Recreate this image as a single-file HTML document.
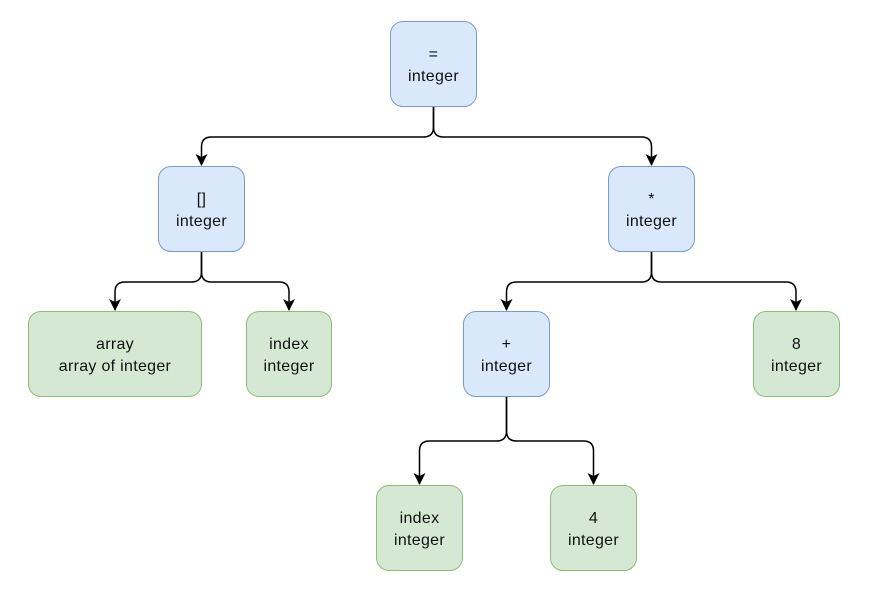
<!DOCTYPE html>
<html><head><style>
body{margin:0;width:895px;height:600px;background:#fff;overflow:hidden;position:relative;font-family:"Liberation Sans",Arial,sans-serif}
.n{position:absolute;box-sizing:border-box;border-radius:13px;display:flex;flex-direction:column;align-items:center;justify-content:center;font-size:16px;letter-spacing:0.3px;line-height:22px;color:#111;text-align:center;padding-top:4px}
.b{background:#dae8fc;border:1.5px solid #7a9acb}
.g{background:#d5e8d4;border:1.5px solid #8fbc75}
</style></head><body>
<svg width="895" height="600" style="position:absolute;left:0;top:0">
<defs><marker id="a" markerWidth="14" markerHeight="14" refX="11" refY="6" orient="auto" markerUnits="userSpaceOnUse"><path d="M0,0 L12,6 L0,12 L3,6 Z" fill="#000"/></marker></defs>
<g fill="none" stroke="#000" stroke-width="1.5">
<path d="M433.5,107 V127 Q433.5,137 423.5,137 H211.5 Q201.5,137 201.5,147 V165" marker-end="url(#a)"/>
<path d="M433.5,107 V127 Q433.5,137 443.5,137 H641.5 Q651.5,137 651.5,147 V165" marker-end="url(#a)"/>
<path d="M201.5,252 V272 Q201.5,282 191.5,282 H125 Q115,282 115,292 V310" marker-end="url(#a)"/>
<path d="M201.5,252 V272 Q201.5,282 211.5,282 H279 Q289,282 289,292 V310" marker-end="url(#a)"/>
<path d="M651.5,252 V272 Q651.5,282 641.5,282 H516.5 Q506.5,282 506.5,292 V310" marker-end="url(#a)"/>
<path d="M651.5,252 V272 Q651.5,282 661.5,282 H786 Q796,282 796,292 V310" marker-end="url(#a)"/>
<path d="M506.5,397 V431 Q506.5,441 496.5,441 H429.5 Q419.5,441 419.5,451 V484" marker-end="url(#a)"/>
<path d="M506.5,397 V431 Q506.5,441 516.5,441 H583.5 Q593.5,441 593.5,451 V484" marker-end="url(#a)"/>
</g></svg>
<div class="n b" style="left:390px;top:21px;width:87px;height:86px"><div>=</div><div>integer</div></div>
<div class="n b" style="left:158px;top:166px;width:87px;height:86px"><div>[]</div><div>integer</div></div>
<div class="n b" style="left:608px;top:166px;width:87px;height:86px"><div>*</div><div>integer</div></div>
<div class="n g" style="left:28px;top:311px;width:174px;height:86px"><div>array</div><div>array of integer</div></div>
<div class="n g" style="left:246px;top:311px;width:86px;height:86px"><div>index</div><div>integer</div></div>
<div class="n b" style="left:463px;top:311px;width:87px;height:86px"><div>+</div><div>integer</div></div>
<div class="n g" style="left:753px;top:311px;width:87px;height:86px"><div>8</div><div>integer</div></div>
<div class="n g" style="left:376px;top:485px;width:87px;height:86px"><div>index</div><div>integer</div></div>
<div class="n g" style="left:550px;top:485px;width:87px;height:86px"><div>4</div><div>integer</div></div>
</body></html>
